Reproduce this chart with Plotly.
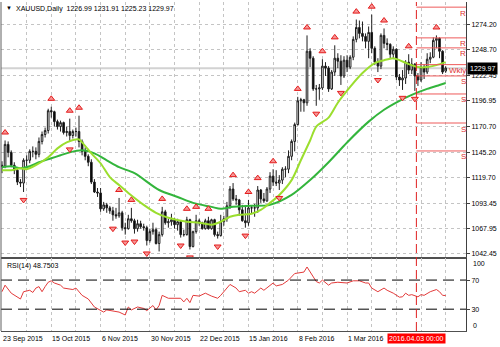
import pandas as pd
import plotly.graph_objects as go

# ---------------- data ----------------
HOLIDAYS = ["2015-12-25", "2016-01-01", "2016-03-25"]
dates = [d for d in pd.bdate_range("2015-09-23", "2016-04-15")
         if d.strftime("%Y-%m-%d") not in HOLIDAYS]

opens = [1132,1131,1153,1145,1132,1127,1115,1114,1137,1137, 1146,1146,1143,1156,1163,1167,1187,1186,1176,1171,
         1175,1165,1166,1162,1166,1166,1156,1146,1141,1135, 1115,1105,1104,1088,1092,1089,1086,1082,1081,1084,
         1069,1068,1078,1076,1068,1073,1070,1069,1056,1065, 1067,1053,1062,1085,1074,1075,1077,1072,1075,1062,
         1062,1077,1050,1065,1076,1074,1068,1076,1068,1077, 1062,1061,1075,1078,1091,1108,1098,1097,1087,1076,
         1074,1089,1089,1089,1107,1098,1096,1108,1121,1115, 1114,1117,1128,1128,1141,1156,1173,1197,1198,1195,
         1247,1240,1209,1209,1210,1232,1230,1209,1226,1240, 1237,1222,1238,1231,1241,1259,1271,1265,1262,1257,
         1266,1250,1236,1232,1263,1255,1254,1244,1249,1221, 1218,1220,1236,1228,1234,1222,1218,1231,1226,1239,
         1241,1258,1260,1247,1226.99]
highs = [1136,1157,1156,1147,1135,1129,1118,1139,1142,1148, 1151,1150,1160,1166,1170,1189,1191,1187,1178,1177,
         1176,1171,1179,1168,1170,1182,1158,1150,1143,1138, 1118,1109,1109,1095,1094,1091,1090,1089,1099,1086,
         1074,1082,1089,1078,1077,1076,1073,1071,1068,1074, 1069,1065,1090,1087,1078,1083,1079,1078,1076,1067,
         1080,1078,1066,1082,1078,1075,1078,1080,1078,1078, 1065,1082,1081,1095,1111,1114,1102,1098,1092,1090,
         1097,1091,1093,1111,1108,1104,1110,1125,1128,1127, 1122,1130,1131,1147,1158,1175,1201,1200,1199,1263,
         1250,1242,1213,1214,1239,1236,1232,1228,1253,1245, 1243,1242,1243,1243,1262,1279,1278,1277,1265,1272,
         1284,1252,1240,1265,1270,1260,1255,1252,1250,1224, 1228,1238,1244,1240,1235,1225,1236,1234,1245,1246,
         1261,1263,1261,1248,1231.91]
lows = [1124,1129,1140,1130,1123,1112,1110,1105,1130,1134, 1140,1138,1140,1153,1160,1164,1180,1171,1168,1166,
        1163,1161,1156,1159,1161,1150,1142,1137,1131,1113, 1104,1100,1085,1086,1084,1083,1076,1078,1079,1066,
        1062,1067,1074,1063,1065,1068,1066,1051,1054,1062, 1052,1045,1060,1072,1069,1071,1068,1066,1059,1060,
        1061,1047,1049,1063,1071,1067,1067,1067,1067,1060, 1058,1060,1071,1075,1088,1096,1092,1081,1075,1069,
        1071,1083,1080,1084,1094,1094,1095,1104,1111,1111, 1107,1113,1120,1124,1137,1146,1172,1186,1186,1192,
        1231,1207,1192,1198,1208,1222,1206,1208,1222,1230, 1213,1220,1226,1229,1238,1256,1260,1257,1250,1240,
        1245,1233,1226,1229,1250,1248,1240,1239,1218,1212, 1208,1214,1224,1224,1207,1212,1216,1219,1224,1235,
        1240,1250,1240,1224,1225.23]
closes = [1131,1153,1145,1132,1127,1115,1114,1137,1137,1146, 1146,1143,1156,1163,1167,1187,1186,1176,1171,1175,
          1165,1166,1162,1166,1166,1156,1146,1141,1135,1115, 1105,1104,1088,1092,1089,1086,1082,1081,1084,1069,
          1068,1078,1076,1068,1073,1070,1069,1056,1065,1067, 1053,1062,1085,1074,1075,1077,1072,1075,1062,1062,
          1077,1050,1065,1076,1074,1068,1076,1068,1077,1062, 1061,1075,1078,1091,1108,1098,1097,1087,1076,1074,
          1089,1089,1089,1107,1098,1096,1108,1121,1115,1114, 1117,1128,1128,1141,1156,1173,1197,1198,1195,1247,
          1240,1209,1209,1210,1232,1230,1209,1226,1240,1237, 1222,1238,1231,1241,1259,1271,1265,1262,1257,1266,
          1250,1236,1232,1263,1255,1254,1244,1249,1221,1218, 1220,1236,1228,1234,1222,1218,1231,1226,1239,1241,
          1258,1260,1247,1226,1229.97]

# moving averages (bar index, value)
fast_idx = [0,3,6,8,11,15,18,21,25,26,29,32,35,38,41,46,50,54,60,64,68,71,74,77,81,84,87,90,94,97,
            100,102,106,109,113,117,121,124,127,129,132,135,138,141,144]
fast_val = [1127,1127,1129,1128,1132,1140,1149,1155,1158,1155,1144,1134,1120,1112,1104,1092,1084,1079,1075,1074,
            1072,1075,1080,1082,1083,1087,1094,1102,1117,1137,1157,1171,1180,1195,1211,1225,1235,1238,1240,1238,
            1234,1231,1231,1233,1236]
slow_idx = [0,3,6,9,12,16,19,22,26,30,34,38,43,51,57,62,68,71,75,81,87,94,100,106,112,119,124,129,133,138,142,144]
slow_val = [1130,1131,1129,1131,1135,1139,1142,1145,1147,1144,1137,1130,1124,1107,1100,1094,1090,1088,1090,1091,
            1092,1102,1117,1135,1155,1176,1188,1197,1203,1209,1213,1215]

# fractals (bar indices)
up_fractals = [1,16,22,25,38,42,52,60,63,67,75,80,83,88,96,99,104,108,115,120,124,132,141]
down_fractals = [7,22,36,40,43,47,51,58,61,70,79,90,102,110,122,130,134]

# RSI(14)
rsi_idx = [0,1,3,5,6,7,9,10,11,12,13,14,15,16,17,19,20,23,24,26,28,30,32,33,34,36,38,40,41,42,
           44,46,47,49,50,51,52,54,56,58,59,60,61,62,64,66,68,70,71,74,76,77,79,80,81,82,84,85,88,89,
           91,93,95,97,98,99,100,102,103,104,106,107,109,111,112,114,116,118,119,120,122,124,125,127,129,130,
           131,132,133,135,136,137,139,141,142,143,144]
rsi_val = [54,63,52,47,44,54,56,53,59,61,54,61,67,69,66,63,59,57,59,49,44,33,29,26,29,27,26,22,33,29,
           33,31,28,35,29,35,49,45,45,45,40,45,39,49,48,52,48,45,49,64,59,54,56,52,54,52,59,56,66,62,
           64,70,79,80,81,88,81,68,66,70,63,66,67,66,66,69,69,66,66,59,54,59,56,52,46.5,47,
           52,49,50,47,50,49,54,57,54,49,48.75]
rsi_last = "48.7503"

# weekly pivot levels
pivot_names = ["R", "R", "R", "Wkly", "S", "S", "S", "S"]
pivot_levels = [1291.5, 1260.5, 1250.4, 1233.5, 1222.1, 1203.9, 1174.6, 1146.4]
event_time = pd.Timestamp("2016-04-03 00:00")

price_ticks = [1042.45, 1067.95, 1093.45, 1119.70, 1145.20, 1170.70, 1196.95, 1222.45, 1248.70, 1274.20]
rsi_levels = [30, 70]

# ---------------- figure ----------------
FONT = "Liberation Sans"
GRID = "#C4C4C4"
n = len(dates)
xi = list(range(n))
X_RANGE = [-0.32, 150.6]
event_x = sum(1 for d in dates if d < event_time) - 0.5

fig = go.Figure()
fig.add_trace(go.Candlestick(
    x=xi, open=opens, high=highs, low=lows, close=closes,
    increasing=dict(line=dict(color="#1E1E1E", width=1), fillcolor="#FFFFFF"),
    decreasing=dict(line=dict(color="#1E1E1E", width=1), fillcolor="#000000"),
    whiskerwidth=0, showlegend=False, hoverinfo="skip", xaxis="x", yaxis="y"))

fig.add_trace(go.Scatter(x=slow_idx, y=slow_val, mode="lines",
                         line=dict(color="#33B53C", width=2, shape="spline", smoothing=0.8),
                         showlegend=False, xaxis="x", yaxis="y"))
fig.add_trace(go.Scatter(x=fast_idx, y=fast_val, mode="lines",
                         line=dict(color="#9BDE2E", width=2, shape="spline", smoothing=0.8),
                         showlegend=False, xaxis="x", yaxis="y"))

FR_OFF = 8
fig.add_trace(go.Scatter(x=up_fractals, y=[highs[i] + FR_OFF for i in up_fractals], mode="markers",
                         marker=dict(symbol="triangle-up", size=6, color="#F59494",
                                     line=dict(color="#E41C1C", width=1)),
                         showlegend=False, xaxis="x", yaxis="y"))
fig.add_trace(go.Scatter(x=down_fractals, y=[lows[i] - FR_OFF for i in down_fractals], mode="markers",
                         marker=dict(symbol="triangle-down", size=6, color="#F59494",
                                     line=dict(color="#E41C1C", width=1)),
                         showlegend=False, xaxis="x", yaxis="y"))

fig.add_trace(go.Scatter(x=rsi_idx, y=rsi_val, mode="lines",
                         line=dict(color="#E23A3A", width=1),
                         showlegend=False, xaxis="x2", yaxis="y2"))

shapes = []
# bid line
shapes.append(dict(type="line", xref="paper", x0=0, x1=1, yref="y", y0=closes[-1], y1=closes[-1],
                   line=dict(color="#D2D2D2", width=2), layer="between"))
# RSI levels
for lv in rsi_levels:
    shapes.append(dict(type="line", xref="paper", x0=0, x1=1, yref="y2", y0=lv, y1=lv,
                       line=dict(color="#000000", width=1, dash="11px,6px")))
# pivot lines
for lv in pivot_levels:
    shapes.append(dict(type="line", xref="x", x0=event_x, x1=X_RANGE[1], yref="y", y0=lv, y1=lv,
                       line=dict(color="#EE5A5A", width=1)))
# event vertical line
shapes.append(dict(type="line", xref="x", x0=event_x, x1=event_x, yref="paper", y0=0, y1=1,
                   line=dict(color="#E02020", width=1, dash="9px,4px")))
# left border
shapes.append(dict(type="line", xref="paper", x0=0, x1=0, yref="paper", y0=0, y1=1,
                   line=dict(color="#606060", width=1)))

ann = []
ann.append(dict(text="▼", xref="paper", yref="paper", x=0.006, y=1, xanchor="left", yanchor="top",
                yshift=-1, showarrow=False, font=dict(family=FONT, size=6, color="#000")))
ann.append(dict(text="XAUUSD,Daily\u00a0\u00a0%.2f %.2f %.2f %.2f" % (opens[-1], highs[-1], lows[-1], closes[-1]),
                xref="paper", yref="paper", x=0.028, y=1, xanchor="left", yanchor="top", yshift=-1,
                showarrow=False, font=dict(family=FONT, size=7, color="#000")))
ann.append(dict(text="RSI(14) " + rsi_last, xref="paper", yref="paper", x=0.008, y=0.2211,
                xanchor="left", yanchor="top", yshift=-2, showarrow=False,
                font=dict(family=FONT, size=7, color="#000")))
for name, lv in zip(pivot_names, pivot_levels):
    ann.append(dict(text=name, xref="paper", yref="y", x=1, y=lv, xanchor="right", yanchor="middle",
                    yshift=-6, xshift=2, showarrow=False, font=dict(family=FONT, size=8, color="#E03030")))
# current price label
ann.append(dict(text="%.2f" % closes[-1], xref="paper", yref="y", x=1, y=closes[-1], xanchor="left",
                yanchor="middle", xshift=1, showarrow=False, bgcolor="#000000", borderpad=2,
                font=dict(family=FONT, size=7, color="#FFFFFF")))
# RSI scale ends
ann.append(dict(text="100", xref="paper", yref="y2", x=1, y=100, xanchor="left", yanchor="middle",
                xshift=5, yshift=-5, showarrow=False, font=dict(family=FONT, size=7, color="#000")))
ann.append(dict(text="0", xref="paper", yref="y2", x=1, y=0, xanchor="left", yanchor="middle",
                xshift=5, yshift=5, showarrow=False, font=dict(family=FONT, size=7, color="#000")))
# date labels
for i in range(0, n, 16):
    if abs(i - event_x) < 12:
        continue
    d = dates[i]
    ann.append(dict(text="%d %s" % (d.day, d.strftime("%b %Y")), xref="x2", yref="paper", x=i, y=0,
                    xanchor="left", yanchor="top", yshift=-2, xshift=-1, showarrow=False,
                    font=dict(family=FONT, size=7, color="#000")))
ann.append(dict(text=event_time.strftime("%Y.%m.%d %H:%M"), xref="x2", yref="paper", x=event_x, y=0,
                xanchor="center", yanchor="top", yshift=-2, showarrow=False, bgcolor="#FF0000",
                borderpad=1, font=dict(family=FONT, size=7, color="#FFFFFF")))

grid_x = list(range(8, 151, 8))
fig.update_layout(
    width=500, height=347, margin=dict(l=1, r=34, t=2, b=16),
    paper_bgcolor="#FFFFFF", plot_bgcolor="#FFFFFF", showlegend=False,
    boxgap=0.25,
    font=dict(family=FONT, size=7, color="#000"),
    xaxis=dict(domain=[0, 1], range=X_RANGE, anchor="y", tickvals=grid_x, showticklabels=False,
               ticks="", showgrid=True, gridcolor=GRID, griddash="dot", gridwidth=1, zeroline=False,
               showline=True, linecolor="#505050", linewidth=2, rangeslider=dict(visible=False)),
    yaxis=dict(domain=[0.2249, 1], range=[1039.4, 1296.7], side="right", anchor="x",
               tickvals=price_ticks, ticktext=["%.2f" % v for v in price_ticks],
               showgrid=True, gridcolor=GRID, griddash="dot", zeroline=False,
               showline=True, linecolor="#404040", linewidth=1, ticks="outside", ticklen=3,
               tickcolor="#404040", tickfont=dict(family=FONT, size=7, color="#000")),
    xaxis2=dict(domain=[0, 1], range=X_RANGE, anchor="y2", tickvals=grid_x, showticklabels=False,
                ticks="", showgrid=True, gridcolor=GRID, griddash="dot", zeroline=False,
                showline=True, linecolor="#505050", linewidth=1),
    yaxis2=dict(domain=[0, 0.2211], range=[0, 100], side="right", anchor="x2",
                tickvals=rsi_levels, ticktext=[str(v) for v in rsi_levels], showgrid=False,
                zeroline=False, showline=True, linecolor="#404040", ticks="outside", ticklen=3,
                tickcolor="#404040", tickfont=dict(family=FONT, size=7, color="#000")),
    shapes=shapes, annotations=ann,
)

fig.write_html("out.html")
